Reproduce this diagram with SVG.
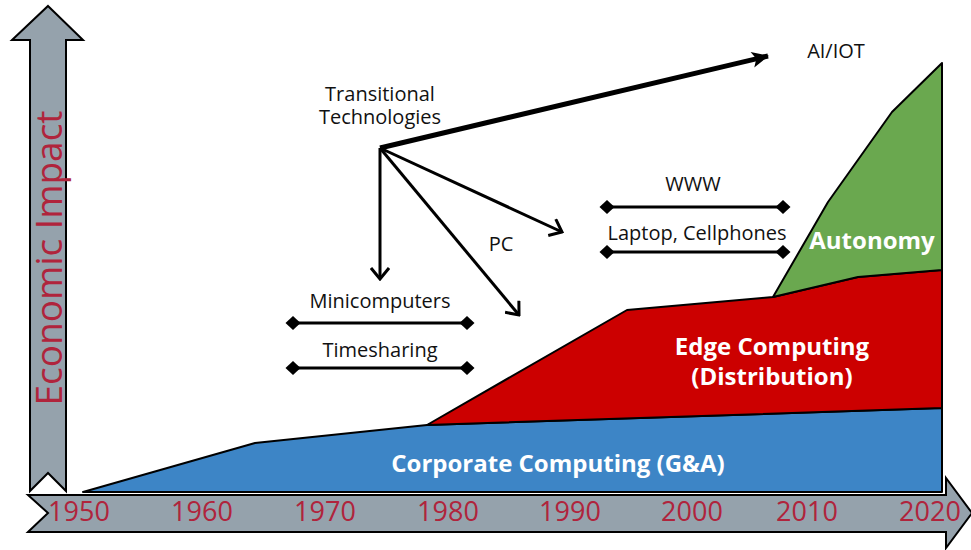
<svg xmlns="http://www.w3.org/2000/svg" width="971" height="550" viewBox="0 0 971 550">
<style>
.axis{fill:#95a2ac;stroke:#000;stroke-width:2;stroke-linejoin:miter}
.yr{font-family:"Open Sans","Liberation Sans",sans-serif;font-size:27px;fill:#b0243c;text-anchor:middle}
.lbl{font-family:"Open Sans","Liberation Sans",sans-serif;font-size:20px;fill:#111;text-anchor:middle}
.big{font-family:"Open Sans","Liberation Sans",sans-serif;font-size:24px;font-weight:bold;fill:#fff;text-anchor:middle}
.area{stroke:#000;stroke-width:2;stroke-linejoin:round}
.thin{stroke:#000;stroke-width:3;fill:none}
.span{stroke:#000;stroke-width:3;fill:none;marker-start:url(#dia);marker-end:url(#dia)}
</style>
<defs>
<marker id="dia" viewBox="-8 -8 16 16" markerWidth="16" markerHeight="16" refX="0" refY="0" markerUnits="userSpaceOnUse" orient="auto">
<path d="M-7.5 0 L0 -7 L7.5 0 L0 7 Z" fill="#000"/>
</marker>
<marker id="vee" viewBox="-14 -10 16 20" markerWidth="16" markerHeight="20" refX="0" refY="0" markerUnits="userSpaceOnUse" orient="auto">
<path d="M-11 -9 L0 0 L-11 9" fill="none" stroke="#000" stroke-width="3"/>
</marker>
<marker id="bold" viewBox="-20 -10 22 20" markerWidth="22" markerHeight="20" refX="0" refY="0" markerUnits="userSpaceOnUse" orient="auto">
<path d="M1 0 L-16 -8 L-12 0 L-16 8 Z" fill="#000"/>
</marker>
</defs>
<rect width="971" height="550" fill="#fff"/>
<g id="y-axis">
<polygon class="axis" points="48,6 83,40 66,40 66,491 48,473 30,491 30,40 12,40"/>
<text transform="translate(62,258) rotate(-90)" font-family="'Open Sans','Liberation Sans',sans-serif" font-size="37" fill="#b0243c" text-anchor="middle">Economic Impact</text>
</g>
<g id="x-axis">
<polygon class="axis" points="28,495 946,495 946,478 972,513 946,548 946,532 28,532 48,513"/>
<text class="yr" x="79" y="521">1950</text>
<text class="yr" x="202" y="521">1960</text>
<text class="yr" x="325" y="521">1970</text>
<text class="yr" x="448" y="521">1980</text>
<text class="yr" x="570" y="521">1990</text>
<text class="yr" x="692" y="521">2000</text>
<text class="yr" x="807" y="521">2010</text>
<text class="yr" x="930" y="521">2020</text>
</g>
<g id="corporate">
<polygon class="area" fill="#3d85c6" points="83,492 255,443 427,425 942,408 942,492"/>
<text class="big" x="558" y="472">Corporate Computing (G&amp;A)</text>
</g>
<g id="edge">
<polygon class="area" fill="#cc0000" points="427,425 627,310 762,298 773,297 858,277 942,270 942,408"/>
<text class="big" x="772" y="355">Edge Computing</text>
<text class="big" x="772" y="385">(Distribution)</text>
</g>
<g id="autonomy">
<polygon class="area" fill="#6aa84f" points="773,297 828,202 892,112 942,63 942,270 858,277"/>
<text class="big" x="872" y="249">Autonomy</text>
</g>
<g id="transitional">
<text class="lbl" x="380" y="101">Transitional</text>
<text class="lbl" x="380" y="124">Technologies</text>
</g>
<g id="aiiot"><text class="lbl" x="836" y="58">AI/IOT</text></g>
<g id="pc"><text class="lbl" x="501" y="251">PC</text></g>
<g id="www"><text class="lbl" x="693" y="191">WWW</text></g>
<g id="laptop"><text class="lbl" x="697" y="240">Laptop, Cellphones</text></g>
<g id="minicomputers"><text class="lbl" x="380" y="308">Minicomputers</text></g>
<g id="timesharing"><text class="lbl" x="380" y="357">Timesharing</text></g>
<g id="connectors">
<line x1="380" y1="148" x2="768" y2="56" stroke="#000" stroke-width="5" marker-end="url(#bold)"/>
<line class="thin" x1="380" y1="148" x2="380" y2="279" marker-end="url(#vee)"/>
<line class="thin" x1="380" y1="148" x2="519" y2="315" marker-end="url(#vee)"/>
<line class="thin" x1="380" y1="148" x2="562" y2="232" marker-end="url(#vee)"/>
<line class="span" x1="607" y1="207" x2="783" y2="207"/>
<line class="span" x1="607" y1="252" x2="783" y2="252"/>
<line class="span" x1="293" y1="323" x2="467" y2="323"/>
<line class="span" x1="293" y1="368" x2="467" y2="368"/>
</g>
</svg>
